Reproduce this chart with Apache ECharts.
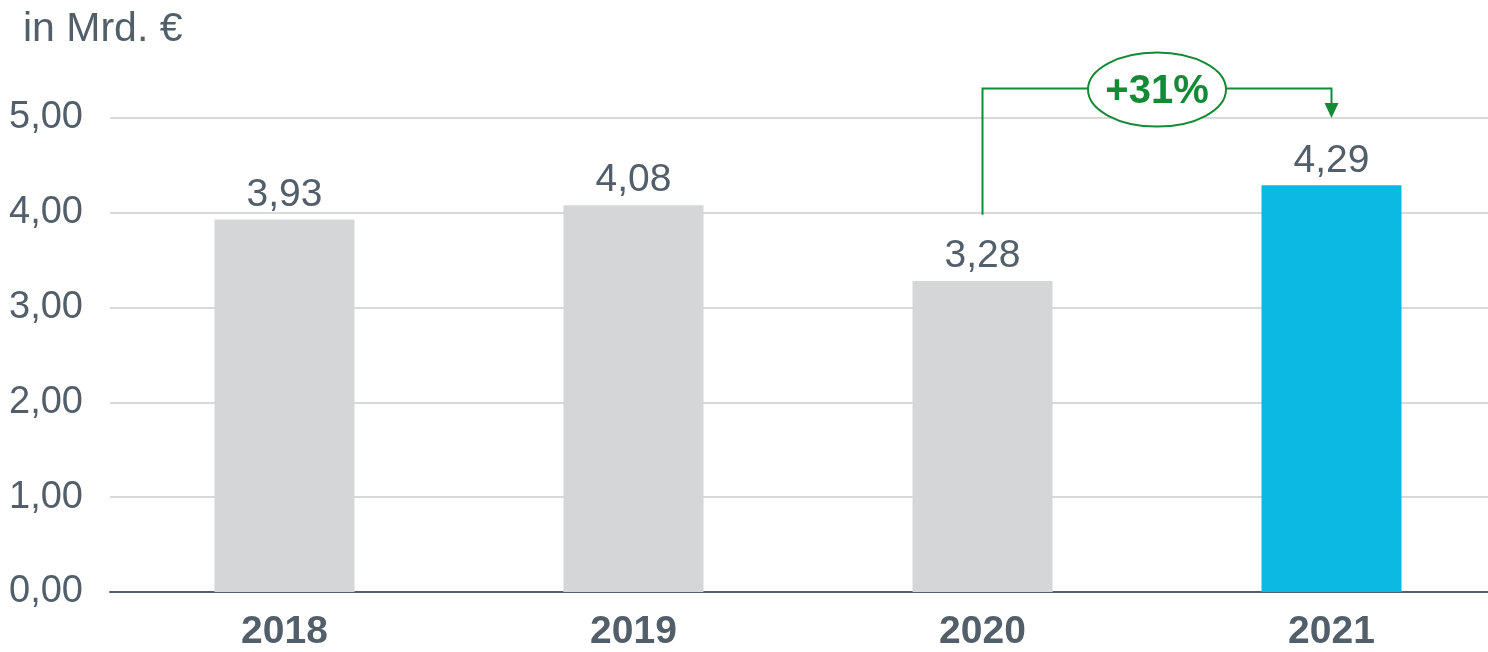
<!DOCTYPE html>
<html>
<head>
<meta charset="utf-8">
<script src="https://cdn.jsdelivr.net/npm/echarts@6/dist/echarts.min.js"></script>
<style>
  html, body { margin: 0; padding: 0; background: #fff; overflow: hidden; }
  /* plot runs past the right edge in the original, so the canvas is a bit wider than the window */
  #chart { width: 1506px; height: 652px; }
</style>
</head>
<body>
<div id="chart"></div>
<script>
const years = ['2018', '2019', '2020', '2021']
const values = [3.93, 4.08, 3.28, 4.29]
const barColors = ['#d5d6d8', '#d5d6d8', '#d5d6d8', '#0bb9e3']
const yTicks = [0, 1, 2, 3, 4, 5]
const growthLabel = '+31%'

const textColor = '#525f6b'
const green = '#128a36'
const fmt = v => v.toFixed(2).replace('.', ',')

const chart = echarts.init(document.getElementById('chart'))

chart.setOption({
  animation: false,
  textStyle: { fontFamily: 'Liberation Sans, Arial, sans-serif' },
  title: {
    text: 'in Mrd. €',
    left: 18,
    top: 4,
    textStyle: { color: textColor, fontSize: 41, fontWeight: 'normal' }
  },
  grid: { left: 110, top: 118, right: 0, bottom: 58 },
  xAxis: {
    type: 'category',
    data: years,
    axisTick: { show: false },
    axisLine: { lineStyle: { color: textColor, width: 2 } },
    axisLabel: { color: textColor, fontSize: 39, fontWeight: 'bold', margin: 21 }
  },
  yAxis: {
    type: 'value',
    min: yTicks[0],
    max: yTicks[yTicks.length - 1],
    interval: 1,
    axisLabel: { color: textColor, fontSize: 38, margin: 27, formatter: fmt },
    splitLine: { lineStyle: { color: '#d9d9d9', width: 2 } }
  },
  series: [{
    type: 'bar',
    barWidth: 140,
    data: values.map((v, i) => ({ value: v, itemStyle: { color: barColors[i] } })),
    label: {
      show: true,
      position: 'top',
      distance: 5,
      color: textColor,
      fontSize: 39,
      formatter: p => fmt(p.value)
    }
  }]
})

// growth bracket from 2020 to 2021
const p0 = chart.convertToPixel({ seriesIndex: 0 }, [2, 3.98])
const pTop = chart.convertToPixel({ seriesIndex: 0 }, [2, 5.31])
const p1 = chart.convertToPixel({ seriesIndex: 0 }, [3, 5.31])
const pTip = chart.convertToPixel({ seriesIndex: 0 }, [3, 5.0])
const midX = (pTop[0] + p1[0]) / 2
const arrowH = 15

chart.setOption({
  graphic: [
    {
      type: 'polyline',
      shape: { points: [p0, pTop, [p1[0], p1[1]], [p1[0], pTip[1] - arrowH]] },
      style: { stroke: green, lineWidth: 2, fill: null }
    },
    {
      type: 'polygon',
      shape: { points: [[p1[0] - 7, pTip[1] - arrowH], [p1[0] + 7, pTip[1] - arrowH], [p1[0], pTip[1]]] },
      style: { fill: green }
    },
    {
      type: 'ellipse',
      shape: { cx: midX, cy: pTop[1] + 1, rx: 69, ry: 37 },
      style: { fill: '#fff', stroke: green, lineWidth: 2 }
    },
    {
      type: 'text',
      x: midX,
      y: pTop[1] + 3,
      style: {
        text: growthLabel,
        fill: green,
        font: 'bold 40px Liberation Sans, Arial, sans-serif',
        align: 'center',
        verticalAlign: 'middle'
      }
    }
  ]
})
</script>
</body>
</html>
